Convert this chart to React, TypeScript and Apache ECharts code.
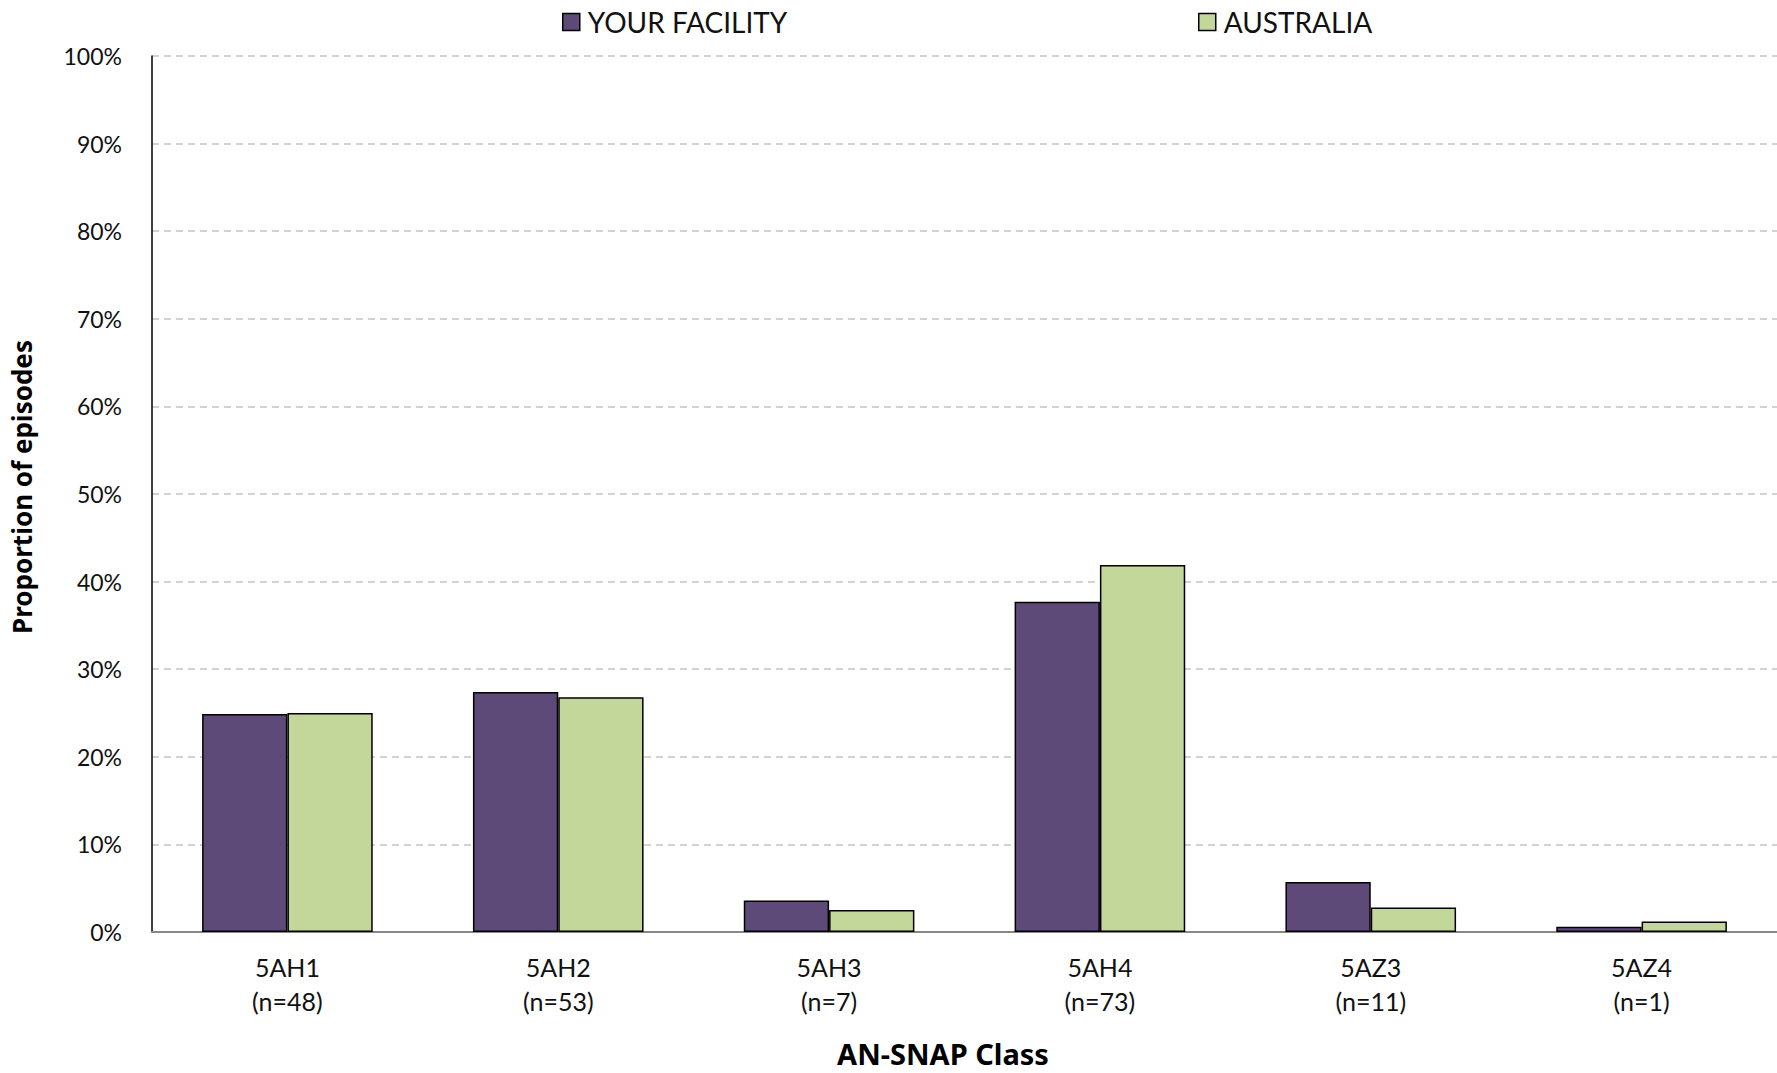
import React, { useEffect, useRef } from "react";
import * as echarts from "echarts";

const categories = ["5AH1\n(n=48)", "5AH2\n(n=53)", "5AH3\n(n=7)", "5AH4\n(n=73)", "5AZ3\n(n=11)", "5AZ4\n(n=1)"];
const facilityValues = [24.9, 27.4, 3.6, 37.7, 5.7, 0.6];
const australiaValues = [25.0, 26.8, 2.5, 41.9, 2.8, 1.2];
const seriesNames = ["YOUR FACILITY", "AUSTRALIA"];

const FONT = "Lato, 'Open Sans', sans-serif";
const BOLD_FONT = "'Noto Sans', 'Roboto', sans-serif";

export default function App() {
  const ref = useRef<HTMLDivElement>(null);
  useEffect(() => {
    document.body.style.margin = "0";
    document.body.style.overflow = "hidden";
    if (!ref.current) return;
    const chart = echarts.init(ref.current, null, { renderer: "svg" });
    const legendCommon = {
      top: 3,
      itemWidth: 17,
      itemHeight: 17,
      itemGap: 8,
      icon: "rect",
      textStyle: { fontFamily: FONT, fontSize: 28, color: "#111", padding: [0, 0, 0, 3] },
      itemStyle: { borderColor: "#000", borderWidth: 1.5 },
    };
    chart.setOption({
      animation: false,
      backgroundColor: "#fff",
      legend: [
        { ...legendCommon, left: 557, data: [seriesNames[0]] },
        { ...legendCommon, left: 1193, data: [seriesNames[1]] },
      ],
      grid: { left: 152, right: 0, top: 56, bottom: 140 },
      xAxis: {
        type: "category",
        data: categories,
        name: "AN-SNAP Class",
        nameLocation: "middle",
        nameGap: 107,
        nameTextStyle: {
          fontFamily: BOLD_FONT,
          fontWeight: "bold",
          fontSize: 29,
          color: "#000",
          padding: [0, 43, 0, 0],
        },
        axisLine: { lineStyle: { color: "#888", width: 2 } },
        axisTick: { show: false },
        axisLabel: {
          fontFamily: FONT,
          fontSize: 25,
          color: "#111",
          lineHeight: 34,
          margin: 18,
        },
      },
      yAxis: {
        type: "value",
        min: 0,
        max: 100,
        interval: 10,
        name: "Proportion of episodes",
        nameLocation: "middle",
        nameRotate: 90,
        nameGap: 117,
        nameTextStyle: {
          fontFamily: BOLD_FONT,
          fontWeight: "bold",
          fontSize: 26,
          color: "#000",
          padding: [0, 0, 0, 14],
        },
        axisLine: { show: true, lineStyle: { color: "#000", width: 1.5 } },
        axisTick: { show: false },
        axisLabel: {
          formatter: "{value}%",
          fontFamily: FONT,
          fontSize: 23,
          color: "#111",
          margin: 30,
        },
        splitLine: { lineStyle: { color: "#c4c4c4", width: 1.5, type: [7, 5] } },
      },
      series: [
        {
          name: seriesNames[0],
          type: "bar",
          data: facilityValues,
          barGap: "0%",
          barCategoryGap: "37%",
          itemStyle: { color: "#5e4a79", borderColor: "#000", borderWidth: 1.5 },
        },
        {
          name: seriesNames[1],
          type: "bar",
          data: australiaValues,
          barGap: "0%",
          barCategoryGap: "37%",
          itemStyle: { color: "#c4d79b", borderColor: "#000", borderWidth: 1.5 },
        },
      ],
    });
    return () => chart.dispose();
  }, []);
  return (
    <div
      ref={ref}
      style={{ position: "absolute", left: 0, top: 0, width: 1777, height: 1073 }}
    />
  );
}
